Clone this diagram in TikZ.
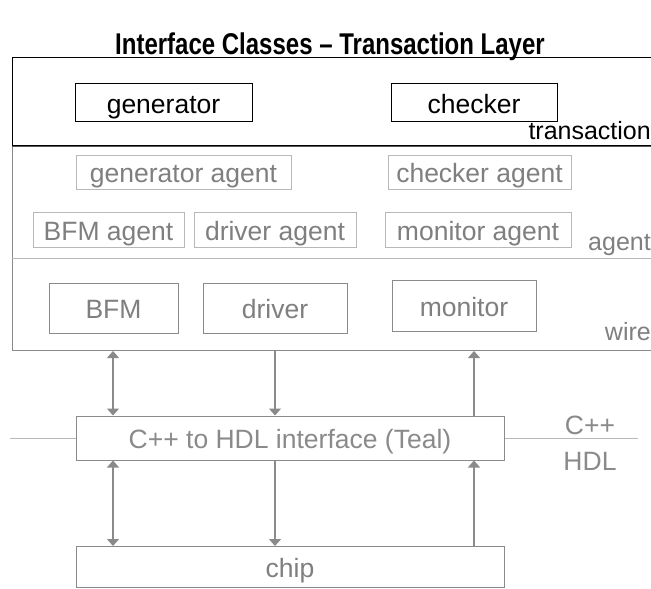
\documentclass[tikz,border=0pt]{standalone}
\usepackage{fontspec}
\setmainfont{Liberation Sans}
\usetikzlibrary{arrows.meta}
\definecolor{lg}{HTML}{B8B8B8}
\definecolor{mg}{HTML}{8A8A8A}
\definecolor{tg}{HTML}{7F7F7F}
\definecolor{dg}{HTML}{555555}
\tikzset{
  txt/.style={font=\fontsize{26.5}{30}\selectfont, inner sep=0pt, text height=23pt, text depth=2pt},
  tbox/.style={txt, draw=black, line width=1pt, text=black},
  abox/.style={txt, draw=lg, line width=1pt, text=tg},
  wbox/.style={txt, draw=mg, line width=1pt, text=tg},
  layerlbl/.style={font=\fontsize{25}{30}\selectfont, inner sep=0pt, anchor=base east},
  sgl/.style={draw=mg, fill=mg, line width=1.3pt, -{Triangle[width=12pt,length=7pt]}},
  dbl/.style={draw=mg, fill=mg, line width=1.3pt, {Triangle[width=12pt,length=7pt]}-{Triangle[width=12pt,length=7pt]}},
}
\begin{document}
\begin{tikzpicture}[x=1pt,y=-1pt]
\clip (0,0) rectangle (651,589);
\fill[white] (0,0) rectangle (651,589);

\node[font=\bfseries\fontsize{30}{34}\selectfont, inner sep=0pt] (title) at (330,47) {\scalebox{0.8}[1]{Interface Classes – Transaction Layer}};

% layers
\node[draw=mg, line width=1pt, anchor=north west, minimum width=660pt, minimum height=205pt, inner sep=0pt] (lower) at (12,145) {};
\coordinate (sepl) at (12,258);
\coordinate (sepr) at (680,258);
\draw[lg, line width=1pt] (sepl) -- (sepr);
\node[draw=black, line width=1pt, anchor=north west, minimum width=660pt, minimum height=88pt, inner sep=0pt] (tlayer) at (12,57) {};
\draw[dg, line width=1pt] (tlayer.south west) -- (tlayer.south east);

% transaction layer
\node[tbox, minimum width=177pt, minimum height=38pt] (gen) at (163.5,102.5) {generator};
\node[tbox, minimum width=166pt, minimum height=38pt] (chk) at (474,102.5) {checker};
\node[layerlbl, text=black] (ltr) at (651,139) {transaction};

% agent layer
\node[abox, minimum width=215pt, minimum height=34pt] (gena) at (183.5,172) {generator agent};
\node[abox, minimum width=183pt, minimum height=34pt] (chka) at (479.5,172) {checker agent};
\node[abox, minimum width=151pt, minimum height=35pt] (bfma) at (108.5,230) {BFM agent};
\node[abox, minimum width=162pt, minimum height=35pt] (drva) at (275,230) {driver agent};
\node[abox, minimum width=186pt, minimum height=35pt] (mona) at (478,230) {monitor agent};
\node[layerlbl, text=tg] (lag) at (651,250) {agent};

% wire layer
\node[wbox, minimum width=129pt, minimum height=50pt] (bfm) at (113.5,308) {BFM};
\node[wbox, minimum width=144pt, minimum height=50pt] (drv) at (275,308) {driver};
\node[wbox, minimum width=144pt, minimum height=51pt] (mon) at (464,306) {monitor};
\node[layerlbl, text=tg] (lwi) at (651,340) {wire};

% interface and chip
\node[wbox, text=mg, minimum width=428pt, minimum height=44pt] (teal) at (290,438) {C++ to HDL interface (Teal)};
\node[wbox, minimum width=428pt, minimum height=41pt, anchor=north] (chip) at (290,546) {chip};

\coordinate (hl) at (10,438);
\coordinate (hr) at (638,438);
\draw[lg, line width=1pt] (teal.west) -- (hl);
\draw[lg, line width=1pt] (teal.east) -- (hr);
\node[txt, text=mg] (cpp) at (590,424) {C++};
\node[txt, text=mg] (hdl) at (590,460) {HDL};

% arrows
\coordinate (xa) at (113,0);
\coordinate (xb) at (275,0);
\coordinate (xc) at (474,0);
\draw[dbl] (lower.south -| xa) -- (teal.north -| xa);
\draw[sgl] (lower.south -| xb) -- (teal.north -| xb);
\draw[sgl] (teal.north -| xc) -- (lower.south -| xc);
\draw[dbl] (teal.south -| xa) -- (chip.north -| xa);
\draw[sgl] (teal.south -| xb) -- (chip.north -| xb);
\draw[sgl] (chip.north -| xc) -- (teal.south -| xc);
\end{tikzpicture}
\end{document}
